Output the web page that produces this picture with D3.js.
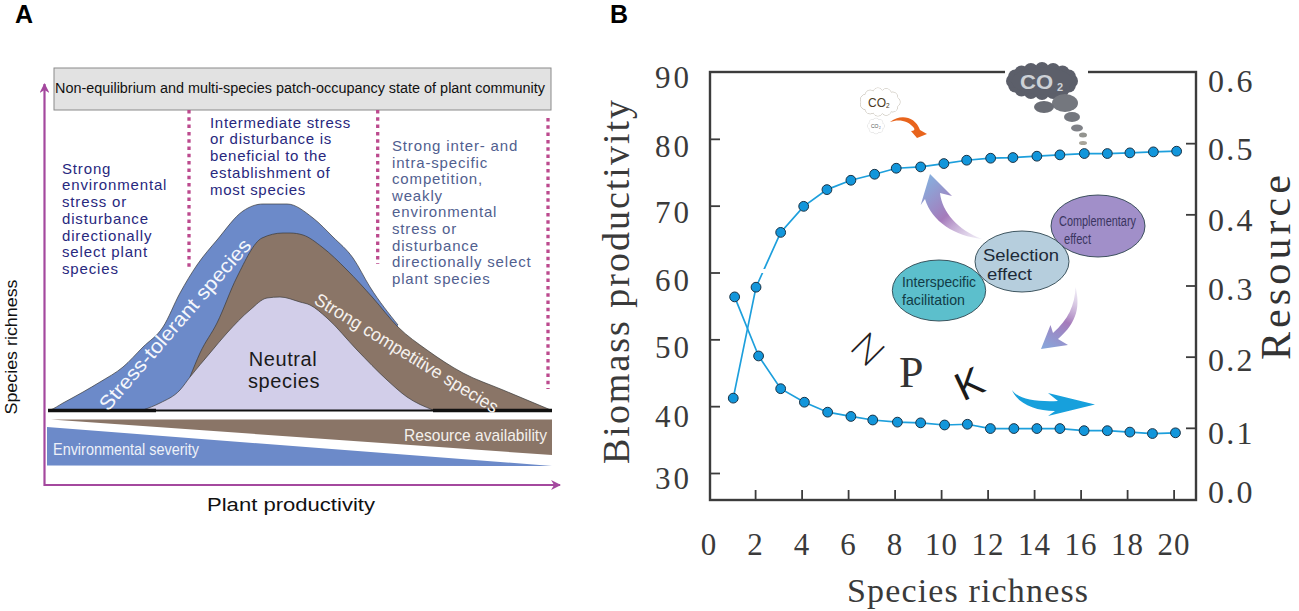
<!DOCTYPE html>
<html><head><meta charset="utf-8">
<script src="https://cdn.jsdelivr.net/npm/d3@7/dist/d3.min.js"></script>
<style>html,body{margin:0;padding:0;background:#fff}svg{display:block}</style></head>
<body><svg id="c" width="1299" height="611" viewBox="0 0 1299 611"></svg>
<script>
// ---------- Panel A data (productivity, richness index) ----------
const stressCurve = [[0,0],[2,0.5],[15,7.5],[35,18.5],[52,28.5],[75,43.5],[95,63.5],[115,83.5],[132,117.5],[149,145.5],[169,170.5],[195,199.5],[215,206.5],[239,206.5],[265,192.5],[285,173.5],[305,152.5],[322,123.5],[350,85.5]];
const competitiveCurve = [[142,33.5],[152,57.5],[169,87.5],[189,133.5],[214,172.5],[235,177.5],[242,177.5],[255,175.5],[274,163.5],[299,140.5],[325,112.5],[350,83.5],[379,60.5],[415,37.5],[455,20.5],[504,0]];
const neutralCurve = [[95,0.5],[112,7.5],[132,20.5],[142,33.5],[162,57.5],[179,77.5],[202,100.5],[219,112.5],[232,113.5],[252,108.5],[262,105.5],[279,92.5],[309,60.5],[339,30.5],[359,13.5],[385,0.5]];
const resourceWedge = [[3,-9],[504,-9],[504,-44.5]];
const severityWedge = [[-1,-16.5],[504,-55.5],[-1,-55]];
const boundaries = [[141,110,268],[329.7,110,264],[500,118,389]];
const leftNote = ["Strong","environmental","stress or","disturbance","directionally","select plant","species"];
const midNote = ["Intermediate stress","or disturbance is","beneficial to the","establishment of","most species"];
const rightNote = ["Strong inter- and","intra-specific","competition,","weakly","environmental","stress or","disturbance","directionally select","plant species"];
// ---------- Panel B data ----------
const biomassX = [1.06,2.04,3.10,4.09,5.09,6.12,7.14,8.07,9.12,10.12,11.1,12.13,13.09,14.12,15.11,16.16,17.15,18.12,19.13,20.13];
const biomass = [41.2,57.8,66.0,69.9,72.4,73.8,74.7,75.6,75.8,76.3,76.8,77.1,77.2,77.4,77.6,77.8,77.8,77.9,78.05,78.15];
const resourceX = [1.12,2.15,3.1,4.12,5.12,6.12,7.06,8.12,9.12,10.15,11.13,12.12,13.13,14.12,15.11,16.15,17.15,18.12,19.09,20.08];
const resource = [0.284,0.201,0.155,0.136,0.122,0.116,0.111,0.108,0.107,0.104,0.105,0.099,0.099,0.099,0.099,0.096,0.096,0.094,0.092,0.093];
const xTicks = [0,2,4,6,8,10,12,14,16,18,20];
const biomassTicks = [30,40,50,60,70,80,90];
const resourceTicks = [0,0.1,0.2,0.3,0.4,0.5,0.6];

const svg = d3.select("#c");
const defs = svg.append("defs");
const sans = "'Liberation Sans',Arial,sans-serif", serif = "'Liberation Serif','Times New Roman',serif";
const pts = a => a.map(p=>p.join(",")).join(" ");

function label(g,s,x,y,o={}){
  const t=g.append("text").attr("x",x).attr("y",y).text(s)
    .attr("font-family",o.font||sans).attr("font-size",o.size||14).attr("fill",o.fill||"#111");
  if(o.anchor)t.attr("text-anchor",o.anchor);
  if(o.weight)t.attr("font-weight",o.weight);
  if(o.len)t.attr("textLength",o.len).attr("lengthAdjust",o.adjust||"spacingAndGlyphs");
  if(o.rot!==undefined)t.attr("transform",`rotate(${o.rot} ${x} ${y})`);
  return t;
}

// ================= PANEL A =================
const A = svg.append("g");
const ax = d3.scaleLinear().domain([0,504]).range([48,552]);
const ay = d3.scaleLinear().domain([0,206]).range([410.5,204.5]);
const area = d3.area().x(d=>ax(d[0])).y0(ay(0)).y1(d=>ay(d[1])).curve(d3.curveMonotoneX);
const topLine = d3.line().x(d=>ax(d[0])).y(d=>ay(d[1])).curve(d3.curveMonotoneX);

label(A,"A",15,23,{size:25,weight:"bold",fill:"#000"});
label(A,"B",610,23,{size:25,weight:"bold",fill:"#000"});

// axes with arrows
const purple="#A4489E";
defs.append("marker").attr("id","ah").attr("viewBox","0 0 10 10").attr("refX",9).attr("refY",5)
  .attr("markerWidth",4.5).attr("markerHeight",4.5).attr("orient","auto")
  .append("path").attr("d","M0,0L10,5L0,10L3,5Z").attr("fill",purple);
A.append("line").attr("x1",44.5).attr("y1",486).attr("x2",44.5).attr("y2",84).attr("stroke",purple).attr("stroke-width",2.2).attr("marker-end","url(#ah)");
A.append("line").attr("x1",44).attr("y1",485).attr("x2",560).attr("y2",485).attr("stroke",purple).attr("stroke-width",2.2).attr("marker-end","url(#ah)");

// header
A.append("rect").attr("x",54).attr("y",68).attr("width",497).attr("height",42).attr("fill","#E2E2E2").attr("stroke","#8a8a8a");
label(A,"Non-equilibrium and multi-species patch-occupancy state of plant community",55,93,{size:14,len:490,fill:"#111"});

// boundaries
A.selectAll("line.b").data(boundaries).join("line").attr("class","b")
  .attr("x1",d=>ax(d[0])).attr("x2",d=>ax(d[0])).attr("y1",d=>d[1]).attr("y2",d=>d[2])
  .attr("stroke","#BC4A8E").attr("stroke-width",3.3).attr("stroke-dasharray","3.5 3.8");

// notes
leftNote.forEach((s,i)=>label(A,s,62,173.5+i*16.75,{size:15,fill:"#28287E"}).attr("letter-spacing",0.85));
midNote.forEach((s,i)=>label(A,s,210,127.5+i*16.9,{size:15,fill:"#28287E"}).attr("letter-spacing",0.7));
rightNote.forEach((s,i)=>label(A,s,392,151+i*16.6,{size:15,fill:"#51608F"}).attr("letter-spacing",0.85));

// stacked humps
[[stressCurve,"#6C8AC9"],[competitiveCurve,"#8A7567"],[neutralCurve,"#D2CEE9"]].forEach(([c,f])=>{
  A.append("path").attr("d",area(c)).attr("fill",f);
  A.append("path").attr("d",topLine(c)).attr("fill","none").attr("stroke","#3a3a3a").attr("stroke-width",0.7);
});
A.append("line").attr("x1",ax(0)).attr("x2",ax(504)).attr("y1",ay(0)).attr("y2",ay(0)).attr("stroke","#111").attr("stroke-width",1.8);
[[0,108],[385,504]].forEach(s=>A.append("line").attr("x1",ax(s[0])).attr("x2",ax(s[1])).attr("y1",ay(0)).attr("y2",ay(0)).attr("stroke","#111").attr("stroke-width",3.4));

// wedges
A.append("polygon").attr("points",pts(resourceWedge.map(d=>[ax(d[0]),ay(d[1])]))).attr("fill","#8A7567");
A.append("polygon").attr("points",pts(severityWedge.map(d=>[ax(d[0]),ay(d[1])]))).attr("fill","#6C8AC9");
label(A,"Resource availability",404,441,{size:17,len:143,fill:"#F4F0EC"});
label(A,"Environmental severity",53,455,{size:17,len:146,fill:"#EEF1F8"});

// curve labels
label(A,"Stress-tolerant species",108,412,{size:20,fill:"#F5F7FC",rot:-49,len:220});
label(A,"Strong competitive species",313,303,{size:18,fill:"#F5F1EE",rot:31.5,len:212});
label(A,"Neutral",283,366,{size:20,anchor:"middle",fill:"#1a1a1a"}).attr("letter-spacing",0.6);
label(A,"species",284,388,{size:20,anchor:"middle",fill:"#1a1a1a"}).attr("letter-spacing",0.6);

label(A,"Species richness",17,347,{size:16.5,anchor:"middle",rot:-90,fill:"#111",len:135});
label(A,"Plant productivity",291,511,{size:17.5,anchor:"middle",fill:"#111",len:168});

// ================= PANEL B =================
const B = svg.append("g");
const bx = d3.scaleLinear().domain([0,20]).range([708.6,1173.6]);
const by = d3.scaleLinear().domain([30,90]).range([473,72]);
const ry = d3.scaleLinear().domain([0,0.6]).range([499,72]);
const ink="#3c3c3c";

B.append("rect").attr("x",710).attr("y",72).attr("width",486).attr("height",428).attr("fill","none").attr("stroke",ink).attr("stroke-width",2.4);

function styleAxis(g){
  g.select(".domain").remove();
  g.selectAll(".tick line").attr("stroke",ink).attr("stroke-width",1.8);
  g.selectAll(".tick text").attr("font-family",serif).attr("fill","#3a3a3a");
}
const leftNudge={90:5,80:7,70:7,60:8,50:8,40:10,30:5};
const rightNudge={0.6:9,0.5:6,0.4:6,0.3:3,0.2:3,0.1:5,0:-7};
const gL=B.append("g").attr("transform","translate(710,0)")
  .call(d3.axisLeft(by).tickValues(biomassTicks).tickSizeInner(-10).tickSizeOuter(0).tickPadding(0)).call(styleAxis);
gL.selectAll(".tick text").attr("font-size",31).attr("letter-spacing",3).attr("x",-18)
  .attr("dy","0.33em").attr("y",d=>leftNudge[d]);
gL.selectAll(".tick").filter(d=>d===90).select("line").remove();
const gR=B.append("g").attr("transform","translate(1196,0)")
  .call(d3.axisRight(ry).tickValues(resourceTicks).tickSizeInner(-10).tickSizeOuter(0)
    .tickFormat(d3.format(".1f"))).call(styleAxis);
gR.selectAll(".tick text").attr("font-size",32).attr("letter-spacing",2.2).attr("x",12)
  .attr("dy","0.33em").attr("y",d=>rightNudge[d]);
gR.selectAll(".tick").filter(d=>d===0||d===0.6).select("line").remove();
const gB=B.append("g").attr("transform","translate(0,500)")
  .call(d3.axisBottom(bx).tickValues(xTicks).tickSizeInner(-10).tickSizeOuter(0)).call(styleAxis);
gB.selectAll(".tick text").attr("font-size",31).attr("letter-spacing",1).attr("y",45).attr("dy","0.33em");
gB.selectAll(".tick").filter(d=>d===0).select("line").remove();

label(B,"Biomass productivity",628.5,282,{font:serif,size:38,anchor:"middle",rot:-90,fill:"#3a3a3a",len:364,adjust:"spacing"});
label(B,"Resource",1290,267.5,{font:serif,size:42,anchor:"middle",rot:-90,fill:"#333",len:185,adjust:"spacing"});
label(B,"Species richness",967.5,601.5,{font:serif,size:34,anchor:"middle",fill:"#3a3a3a",len:241,adjust:"spacing"});

// series
const lineCol="#1D9FDC", dotCol="#1296DB";
const biomassPts=biomass.map((v,i)=>[bx(biomassX[i]),by(v)]);
const resourcePts=resource.map((v,i)=>[bx(resourceX[i]),ry(v)]);
const ln=d3.line();
B.append("path").attr("d",ln(biomassPts)).attr("fill","none").attr("stroke",lineCol).attr("stroke-width",1.7);
B.append("path").attr("d",ln(resourcePts)).attr("fill","none").attr("stroke",lineCol).attr("stroke-width",1.7);
// erased bit of the rising line in the source figure
B.append("rect").attr("x",759).attr("y",269).attr("width",7).attr("height",4).attr("fill","#fff");
[biomassPts,resourcePts].forEach(P=>{
  B.append("g").selectAll("circle").data(P).join("circle").attr("cx",d=>d[0]).attr("cy",d=>d[1])
    .attr("r",4.9).attr("fill",dotCol).attr("stroke","#1a3346").attr("stroke-width",1);
});

// ---------- decorations ----------
function cloud(g,cx,cy,rx,ry,n,r,fill,stroke,sw){
  const a=d3.range(n).map(i=>i/n*2*Math.PI);
  const c=a.map(t=>[cx+rx*Math.cos(t),cy+ry*Math.sin(t)]);
  if(stroke) g.selectAll(null).data(c).join("circle").attr("cx",d=>d[0]).attr("cy",d=>d[1]).attr("r",r).attr("fill",stroke).attr("stroke",stroke).attr("stroke-width",sw);
  g.selectAll(null).data(c).join("circle").attr("cx",d=>d[0]).attr("cy",d=>d[1]).attr("r",r).attr("fill",fill);
  g.append("ellipse").attr("cx",cx).attr("cy",cy).attr("rx",rx+r*.2).attr("ry",ry+r*.2).attr("fill",fill);
}
// big CO2 cloud
B.append("rect").attr("x",1005).attr("y",66).attr("width",83).attr("height",12).attr("fill","#fff");
const cg=B.append("g");
cloud(cg,1042,81,29,12,16,7,"#5C5F6A");
[[1065,103,13,9,"#74777e"],[1044,107,10,6,"#6a6d75"],[1072,117,8,5,"#74777e"],[1077,128,6,3.5,"#7f8187"],[1083,135,4,2.5,"#93948f"],[1083,143,4,2,"#a9a59a"]].forEach(d=>
  cg.append("ellipse").attr("cx",d[0]).attr("cy",d[1]).attr("rx",d[2]).attr("ry",d[3]).attr("fill",d[4]));
label(cg,"CO",1020,88.5,{size:21,weight:"bold",fill:"#CDD1D6",len:33});
label(cg,"2",1057,91,{size:11,weight:"bold",fill:"#CDD1D6"});

// small clouds
const sc=B.append("g");
cloud(sc,880,102,15,9,11,5,"#fff","#b5ad9f",0.8);
cloud(sc,876,126,5.5,5,8,2.8,"#fff","#cfcfcf",0.6);
label(sc,"CO",868,107,{size:12,fill:"#4a3a22"});
label(sc,"2",886,108,{size:6.5,fill:"#4a3a22"});
label(sc,"CO",871,128,{size:5,fill:"#555"});
label(sc,"2",879,129,{size:3,fill:"#555"});
B.append("path").attr("d","M890,122 C900,114 915,116 920,130 L927,134 L917,138 L911,131 C914,131 915,130 914,128 C908,120 898,119 890,122Z").attr("fill","#E8641C");

// ellipses
[[1098,226,47,31,"#A18FC9"],[939,290.5,46.7,30.5,"#5CBFCC"],[1022,261.5,47,30.5,"#B6CEDD"]].forEach(d=>
  B.append("ellipse").attr("cx",d[0]).attr("cy",d[1]).attr("rx",d[2]).attr("ry",d[3]).attr("fill",d[4]).attr("stroke","#2f4650").attr("stroke-width",0.9));
label(B,"Complementary",1059,226,{size:14,len:77,fill:"#3a3560"});
label(B,"effect",1064,244,{size:14,len:27,fill:"#3a3560"});
label(B,"Interspecific",902,287,{size:15,len:74,fill:"#123c46"});
label(B,"facilitation",902,305,{size:15,len:63,fill:"#123c46"});
label(B,"Selection",983,261,{size:17,len:76,fill:"#1d2a38"});
label(B,"effect",987,280,{size:17,len:45,fill:"#1d2a38"});

// gradient arrows
const g1=defs.append("linearGradient").attr("id","up").attr("gradientUnits","userSpaceOnUse").attr("x1",982).attr("y1",240).attr("x2",925).attr("y2",178);
g1.append("stop").attr("offset",0).attr("stop-color","#dcd3ea").attr("stop-opacity",0.4);
g1.append("stop").attr("offset",0.5).attr("stop-color","#A57BBB");
g1.append("stop").attr("offset",1).attr("stop-color","#86B0DE");
B.append("path").attr("d","M982,239 C955,236 932,222 925,199 L920.7,205 L930,174 L952,196 L940,193 C942,212 958,230 982,239Z").attr("fill","url(#up)");
const g2=defs.append("linearGradient").attr("id","dn").attr("gradientUnits","userSpaceOnUse").attr("x1",1076).attr("y1",287).attr("x2",1042).attr("y2",349);
g2.append("stop").attr("offset",0).attr("stop-color","#dcd3ea").attr("stop-opacity",0.4);
g2.append("stop").attr("offset",0.5).attr("stop-color","#A57BBB");
g2.append("stop").attr("offset",1).attr("stop-color","#86A8DC");
B.append("path").attr("d","M1075.5,287 C1080,305 1078,322 1058,339 L1068,345 L1041,349 L1050.5,325 L1053,333 C1068,320 1075,305 1075.5,287Z").attr("fill","url(#dn)");

// N P K
label(B,"N",868,349,{font:"Lato,'Liberation Sans',sans-serif",size:38,fill:"#222",rot:45,anchor:"middle",weight:300}).attr("dy","0.36em");
label(B,"P",899,387,{font:serif,size:44,fill:"#333"});
label(B,"K",969,383,{size:40,fill:"#1b1b1b",rot:-25,anchor:"middle"}).attr("dy","0.36em");
// blue arrow
B.append("path").attr("d","M1012,390 C1018,399 1035,402 1058,401 L1048,393 L1095,404.5 L1048,416 L1055,411 C1035,411 1018,404 1012,390Z").attr("fill","#17A0DC");
</script></body></html>
